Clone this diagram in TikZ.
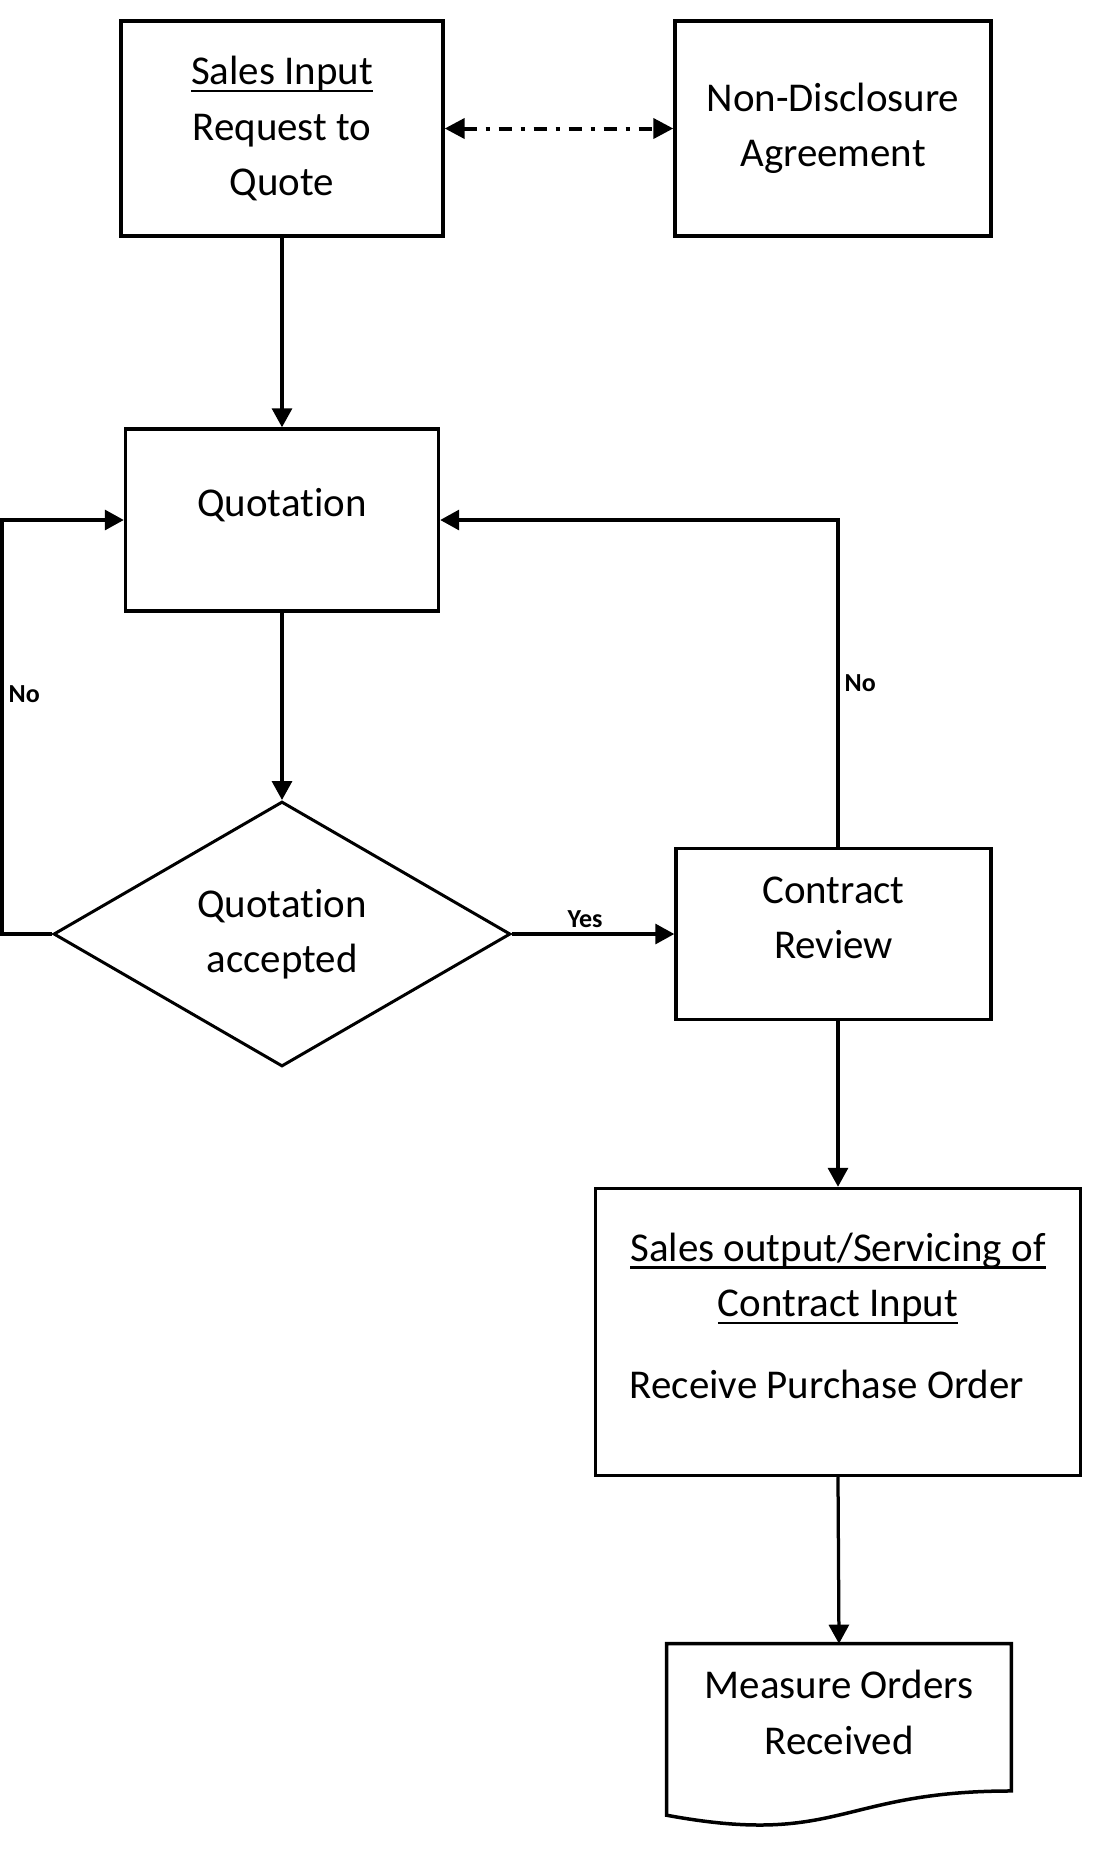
\documentclass[tikz,border=0pt]{standalone}
\usepackage{fontspec}
\setmainfont{Carlito}[Ligatures=NoCommon]
\usetikzlibrary{arrows.meta}
\usetikzlibrary{shapes.geometric}
\usetikzlibrary{calc}

\newcommand{\uln}[1]{\setbox0\hbox{#1}\rlap{\rule[-0.15cm]{\wd0}{0.045cm}}\box0}
\newcommand{\botpad}[1]{\rule[-#1]{0pt}{0pt}}

\tikzset{
  box/.style={draw, line width=0.07cm, rectangle, align=center, inner sep=0pt},
  arr/.style={line width=0.065cm, -{Triangle[length=0.38cm,width=0.4cm]}},
  lbl/.style={font=\fontsize{14.8}{17}\selectfont\bfseries, inner sep=0.1cm},
}

\begin{document}
\begin{tikzpicture}[x=0.02cm, y=-0.02cm, font=\fontsize{23.3}{31.6}\selectfont]
  \useasboundingbox (0,0) rectangle (1100,1867);

  \node[box, minimum width=6.44cm, minimum height=4.3cm] (inp) at (282,128.5)
    {\uln{Sales Input}\\Request to\\Quote};
  \node[box, minimum width=6.32cm, minimum height=4.3cm] (nda) at (833,128.5)
    {Non-Disclosure\\Agreement};
  \node[box, minimum width=6.26cm, minimum height=3.64cm] (quot) at (282,520)
    {Quotation\botpad{0.7cm}};
  \node[box, diamond, line width=0.06cm, minimum width=9.14cm, minimum height=5.3cm] (dec) at (282,934)
    {Quotation\\accepted};
  \node[box, minimum width=6.3cm, minimum height=3.42cm] (cr) at (833.5,934)
    {Contract\\Review\botpad{0.66cm}};
  \node[box, minimum width=9.7cm, minimum height=5.74cm] (sales) at (838,1332)
    {\uln{Sales output/Servicing of}\\\uln{Contract Input}\\[0.52cm]Receive Purchase Order\hspace*{0.44cm}\botpad{0.66cm}};
  \node[rectangle, align=center, inner sep=0pt, minimum width=6.88cm, minimum height=3.66cm] (meas) at (839,1735.5)
    {Measure Orders\\Received\botpad{0.92cm}};
  \draw[line width=0.07cm] (meas.north west) -- (meas.north east)
    -- ($(meas.north east)!0.802!(meas.south east)$)
    .. controls ($(meas.north)!0.802!(meas.south)$) and ($(meas.north)!1.1075!(meas.south)$)
    .. ($(meas.north west)!0.934!(meas.south west)$) -- cycle;

  \draw[line width=0.08cm, dash pattern=on 0.26cm off 0.18cm on 0.08cm off 0.18cm,
    {Triangle[length=0.4cm,width=0.4cm]}-{Triangle[length=0.4cm,width=0.4cm]}] (inp) -- (nda);
  \draw[arr] (inp) -- (quot);
  \draw[arr] (quot) -- (dec);
  \draw[arr] (dec) -- node[lbl, above, pos=0.45] {Yes} (cr);
  \draw[arr] (dec.west) -- ++(-50,0) |- node[lbl, right, pos=0.29] {No} (quot.west);
  \draw[arr] (sales.north |- cr.north) |- node[lbl, right, pos=0.25] {No} (quot.east);
  \draw[arr] (sales.north |- cr.south) -- (sales.north);
  \draw[arr] (sales.south) -- (meas.north);
\end{tikzpicture}
\end{document}
